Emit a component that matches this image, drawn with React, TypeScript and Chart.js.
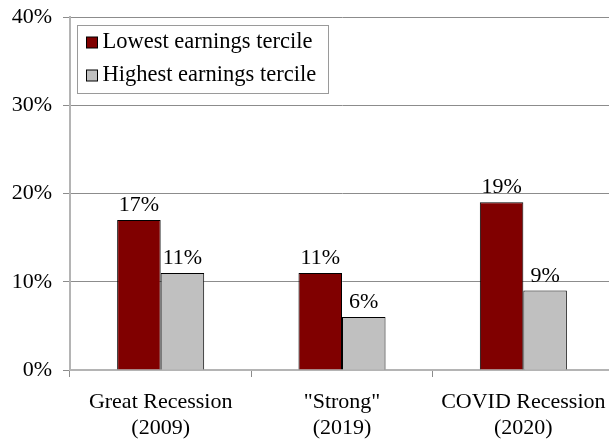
import React, { useEffect, useRef } from 'react';
import { Chart, registerables } from 'chart.js';

Chart.register(...registerables);

const categories = [
  ['Great Recession', '(2009)'],
  ['"Strong"', '(2019)'],
  ['COVID Recession', '(2020)'],
];
const seriesNames = ['Lowest earnings tercile', 'Highest earnings tercile'];
const lowestTercile = [17, 11, 19];
const highestTercile = [11, 6, 9];
const yMin = 0;
const yMax = 40;
const yStep = 10;
const seriesColors = ['#800000', '#c0c0c0'];

const FONT = '"Liberation Serif", "Times New Roman", serif';

const valueLabels = {
  id: 'valueLabels',
  afterDatasetsDraw(chart: any) {
    const ctx = chart.ctx;
    ctx.save();
    ctx.font = `22px ${FONT}`;
    ctx.fillStyle = '#000';
    ctx.textAlign = 'center';
    ctx.textBaseline = 'alphabetic';
    chart.data.datasets.forEach((ds: any, i: number) => {
      const meta = chart.getDatasetMeta(i);
      meta.data.forEach((el: any, j: number) => {
        ctx.fillText(`${ds.data[j]}%`, el.x, el.y - 9);
      });
    });
    ctx.restore();
  },
};

const boxLegend = {
  id: 'boxLegend',
  afterDraw(chart: any) {
    const ctx = chart.ctx;
    const a = chart.chartArea;
    const bx = Math.round(a.left + 7) + 0.5;
    const by = Math.round(a.top + 8) + 0.5;
    const bw = 251;
    const bh = 68;
    ctx.save();
    ctx.fillStyle = '#fff';
    ctx.fillRect(bx, by, bw, bh);
    ctx.strokeStyle = '#9a9a9a';
    ctx.lineWidth = 1;
    ctx.strokeRect(bx, by, bw, bh);
    ctx.font = `22.5px ${FONT}`;
    ctx.textAlign = 'left';
    ctx.textBaseline = 'alphabetic';
    chart.data.datasets.forEach((ds: any, i: number) => {
      const sy = by + 11.5 + i * 33;
      ctx.fillStyle = ds.backgroundColor;
      ctx.fillRect(bx + 9, sy, 11, 11);
      ctx.strokeStyle = '#000';
      ctx.strokeRect(bx + 9, sy, 11, 11);
      ctx.fillStyle = '#000';
      ctx.fillText(ds.label, bx + 25, by + 22.5 + i * 33);
    });
    ctx.restore();
  },
};

export default function App() {
  const ref = useRef<HTMLCanvasElement | null>(null);

  useEffect(() => {
    if (!ref.current) return;
    const chart = new Chart(ref.current, {
      type: 'bar',
      data: {
        labels: categories,
        datasets: [
          {
            label: seriesNames[0],
            data: lowestTercile,
            backgroundColor: seriesColors[0],
            borderColor: '#000',
            borderWidth: 1,
          },
          {
            label: seriesNames[1],
            data: highestTercile,
            backgroundColor: seriesColors[1],
            borderColor: '#000',
            borderWidth: 1,
          },
        ],
      },
      options: {
        responsive: false,
        animation: false,
        devicePixelRatio: 1,
        layout: { padding: { top: 17, right: 6, left: 0, bottom: 0 } },
        datasets: {
          bar: { categoryPercentage: 0.48, barPercentage: 1 },
        },
        plugins: {
          legend: { display: false },
          tooltip: { enabled: false },
        },
        scales: {
          x: {
            grid: {
              display: true,
              drawOnChartArea: false,
              drawTicks: true,
              tickLength: 7,
              offset: true,
              color: '#8c8c8c',
            },
            border: { color: '#b4b4b4', width: 2 },
            ticks: {
              color: '#000',
              padding: 12,
              maxRotation: 0,
              autoSkip: false,
              font: { family: FONT, size: 22, lineHeight: 1.2 },
            },
            afterFit(scale: any) {
              scale.height = 71;
              scale.paddingLeft = 0;
              scale.paddingRight = 0;
            },
          },
          y: {
            min: yMin,
            max: yMax,
            ticks: {
              stepSize: yStep,
              color: '#000',
              padding: 11,
              font: { family: FONT, size: 22 },
              callback: (v: any) => `${v}%`,
            },
            grid: { color: '#8c8c8c', tickLength: 7 },
            border: { color: '#b4b4b4', width: 2 },
            afterFit(scale: any) {
              scale.width = 70;
              scale.paddingTop = 0;
              scale.paddingBottom = 0;
            },
          },
        },
      },
      plugins: [valueLabels, boxLegend],
    });
    return () => chart.destroy();
  }, []);

  return (
    <div
      style={{
        position: 'fixed',
        left: 0,
        top: 0,
        width: 609,
        height: 441,
        overflow: 'hidden',
        background: '#fff',
      }}
    >
      <canvas ref={ref} width={620} height={441} style={{ display: 'block' }} />
    </div>
  );
}
